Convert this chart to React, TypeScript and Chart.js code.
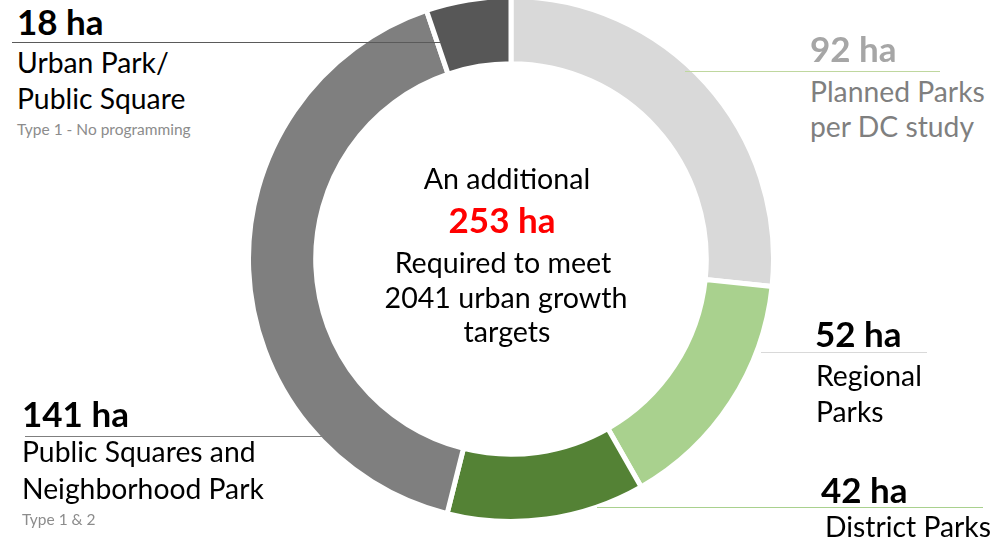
import React, { useEffect, useRef } from "react";
import { Chart, registerables } from "chart.js";

Chart.register(...registerables);

// ---- data ----
const categories = [
  "Planned Parks per DC study",
  "Regional Parks",
  "District Parks",
  "Public Squares and Neighborhood Park",
  "Urban Park/Public Square",
];
const values = [92, 52, 42, 141, 18];
const colors = ["#d9d9d9", "#a9d18e", "#548235", "#7f7f7f", "#575757"];
const valueLabels = ["92 ha", "52 ha", "42 ha", "141 ha", "18 ha"];
const centerLines = ["An additional", "253 ha", "Required to meet", "2041 urban growth", "targets"];

const FONT = "Lato, 'Open Sans', sans-serif";

type TProps = {
  x: number;
  base: number;
  size: number;
  bold?: boolean;
  color?: string;
  text: string;
  center?: boolean;
};

function T({ x, base, size, bold, color, text, center }: TProps) {
  const lh = size * 1.2;
  const top = base - 0.987 * size;
  const style: React.CSSProperties = {
    position: "absolute",
    top,
    left: x,
    whiteSpace: "pre",
    fontFamily: FONT,
    fontSize: size,
    lineHeight: lh + "px",
    fontWeight: bold ? 700 : 400,
    color: color || "#000",
  };
  if (center) style.transform = "translateX(-50%)";
  return <div style={style}>{text}</div>;
}

function L({ x1, x2, y, color }: { x1: number; x2: number; y: number; color: string }) {
  return (
    <div
      style={{
        position: "absolute",
        left: x1,
        top: y,
        width: x2 - x1,
        height: 1,
        background: color,
      }}
    />
  );
}

export default function App() {
  const ref = useRef<HTMLCanvasElement | null>(null);

  useEffect(() => {
    if (!ref.current) return;
    const chart = new Chart(ref.current, {
      type: "doughnut",
      data: {
        labels: categories,
        datasets: [
          {
            data: values,
            backgroundColor: colors,
            borderColor: "#ffffff",
            borderWidth: 5,
            hoverOffset: 0,
          },
        ],
      },
      options: {
        animation: false,
        responsive: true,
        maintainAspectRatio: false,
        cutout: "74.4%",
        rotation: 0,
        layout: { padding: 0 },
        events: [],
        plugins: {
          legend: { display: false },
          tooltip: { enabled: false },
        },
      },
    });
    return () => chart.destroy();
  }, []);

  const big = 35;
  const mid = 28.3;
  const ctr = 28.6;
  const small = 15.5;

  return (
    <div
      style={{
        position: "fixed",
        left: 0,
        top: 0,
        width: 991,
        height: 544,
        overflow: "hidden",
        background: "#fff",
      }}
    >
      <div style={{ position: "absolute", left: 246, top: -6, width: 530, height: 530 }}>
        <canvas ref={ref} />
      </div>

      {/* leader lines */}
      <L x1={12} x2={441} y={42} color="#5a5a5a" />
      <L x1={685} x2={940} y={71} color="#bfd79e" />
      <L x1={761} x2={927} y={352} color="#d9d9d9" />
      <L x1={597} x2={983} y={507} color="#a9d18e" />
      <L x1={25} x2={327} y={436} color="#7f7f7f" />

      {/* 18 ha */}
      <T x={17} base={35} size={big} bold text={valueLabels[4]} />
      <T x={17} base={74} size={mid} text="Urban Park/" />
      <T x={17} base={110} size={mid} text="Public Square" />
      <T x={17} base={135} size={small} color="#8c8c8c" text="Type 1 - No programming" />

      {/* 92 ha */}
      <T x={810} base={62} size={big} bold color="#a6a6a6" text={valueLabels[0]} />
      <T x={810} base={103} size={mid} color="#7f7f7f" text="Planned Parks" />
      <T x={810} base={138} size={mid} color="#7f7f7f" text="per DC study" />

      {/* 52 ha */}
      <T x={815} base={347} size={big} bold text={valueLabels[1]} />
      <T x={816} base={387} size={mid} text="Regional" />
      <T x={816} base={423} size={mid} text="Parks" />

      {/* 42 ha */}
      <T x={821} base={503} size={big} bold text={valueLabels[2]} />
      <T x={825} base={538} size={mid} text="District Parks" />

      {/* 141 ha */}
      <T x={22} base={427} size={big} bold text={valueLabels[3]} />
      <T x={22} base={463} size={mid} text="Public Squares and" />
      <T x={22} base={500} size={mid} text="Neighborhood Park" />
      <T x={22} base={525} size={small} color="#8c8c8c" text="Type 1 & 2" />

      {/* center */}
      <T x={507} base={189} size={ctr} center text={centerLines[0]} />
      <T x={502} base={233} size={big} bold center color="#ff0000" text={centerLines[1]} />
      <T x={503} base={273} size={ctr} center text={centerLines[2]} />
      <T x={506} base={308} size={ctr} center text={centerLines[3]} />
      <T x={507} base={342} size={ctr} center text={centerLines[4]} />
    </div>
  );
}
